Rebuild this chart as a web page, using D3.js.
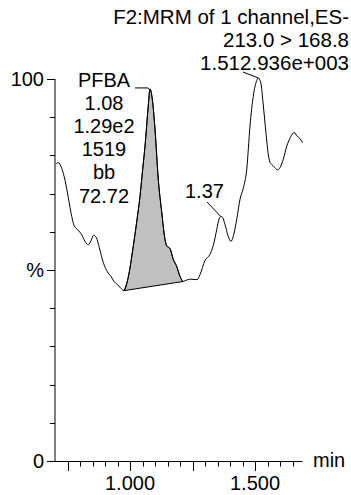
<!DOCTYPE html>
<html>
<head>
<meta charset="utf-8">
<script src="https://cdn.jsdelivr.net/npm/d3@7"></script>
<style>
html,body{margin:0;padding:0;background:#fff;}
svg{display:block;}
text{font-family:"Liberation Sans",Arial,Helvetica,sans-serif;fill:#000;}
</style>
</head>
<body>
<div id="chart"></div>
<script>
// ---- data ----
const times = [0.703,0.713,0.727,0.740,0.753,0.767,0.776,0.793,0.807,0.820,0.833,0.847,0.854,0.866,0.877,0.893,0.909,0.924,0.936,0.947,0.960,0.976,
  0.992,1.013,1.027,1.040,1.050,1.060,1.073,1.080,1.089,1.100,1.113,1.127,1.140,1.147,1.160,1.173,1.187,1.200,1.213,
  1.220,1.233,1.244,1.260,1.269,1.280,1.300,1.320,1.333,1.347,1.356,1.363,1.370,1.380,1.393,1.404,1.413,1.427,1.440,1.453,1.467,1.480,1.493,1.507,1.512,1.523,1.533,1.544,1.553,1.560,1.567,1.580,1.589,1.600,1.613,1.627,1.643,1.656,1.669,1.680,1.690];
const intensity = [77.7,78.1,76.6,73.5,69.0,64.0,61.7,60.4,59.2,57.5,56.6,58.1,59.1,58.4,55.9,52.0,49.6,48.3,47.0,46.3,45.5,44.6,
  47.8,56.2,62.7,69.3,75.9,82.4,92.9,97.4,94.8,86.9,73.8,65.1,58.0,56.3,55.6,52.8,50.9,48.3,47.0,
  47.2,47.5,47.6,47.5,47.5,48.8,52.5,54.1,56.4,60.6,63.3,64.0,63.8,61.9,58.8,57.5,58.8,63.3,68.5,71.4,76.4,87.7,95.5,99.6,100.3,99.1,93.2,85.8,80.3,78.2,77.6,76.8,76.2,76.8,79.0,82.4,84.9,86.0,85.0,84.4,83.3];
const peakStart = 0.976, peakEnd = 1.213;          // integrated PFBA peak
const peakLabel = ["PFBA","1.08","1.29e2","1519","bb","72.72"];
const titleLines = ["F2:MRM of 1 channel,ES-","213.0 > 168.8","2.936e+003"];
const mainPeakLabel = "1.51", minorPeakLabel = "1.37";
const xMajorTicks = [0.75,1.0,1.25,1.5];
const xLabelTicks = [1.0,1.5];
const xMinorTicks = d3.range(0.75,1.66,0.05).map(v=>+v.toFixed(2));
const yTicks = d3.range(0,101,10);
const yLabels = [[0,"0"],[50,"%"],[100,"100"]];

// ---- layout ----
const W=351,H=495;
const svg=d3.select("#chart").append("svg").attr("width",W).attr("height",H);
const x=d3.scaleLinear().domain([0.70,1.69]).range([55,302.5]);
const y=d3.scaleLinear().domain([0,100]).range([461,79]);
const FS=20, TFS=20.5;

// axes
svg.append("line").attr("x1",x(0.70)).attr("x2",x(1.69)).attr("y1",y(0)+0.5).attr("y2",y(0)+0.5).attr("stroke","#000");
svg.append("line").attr("x1",x(0.70)).attr("x2",x(0.70)).attr("y1",y(0)+0.5).attr("y2",y(100)).attr("stroke","#000");
svg.selectAll(".xt").data(xMinorTicks).join("line")
  .attr("x1",d=>Math.round(x(d))+0.5).attr("x2",d=>Math.round(x(d))+0.5)
  .attr("y1",y(0)).attr("y2",d=>y(0)+(xMajorTicks.some(m=>Math.abs(m-d)<1e-6)?10:5.5))
  .attr("stroke","#000");
svg.selectAll(".xl").data(xLabelTicks).join("text")
  .attr("x",d=>x(d)).attr("y",490).attr("text-anchor","middle").attr("font-size",FS)
  .text(d=>d3.format(".3f")(d));
svg.append("text").attr("x",313).attr("y",467).attr("font-size",FS).text("min");
svg.selectAll(".yt").data(yTicks).join("line")
  .attr("x1",x(0.70)).attr("x2",d=>x(0.70)-(d%50===0?8:5))
  .attr("y1",d=>Math.round(y(d))+0.5).attr("y2",d=>Math.round(y(d))+0.5)
  .attr("stroke","#000");
svg.selectAll(".yl").data(yLabels).join("text")
  .attr("x",44).attr("y",d=>y(d[0])+7).attr("text-anchor","end").attr("font-size",FS)
  .text(d=>d[1]);

// data
const pts=times.map((t,i)=>[t,intensity[i]]);
const peakPts=pts.filter(p=>p[0]>=peakStart-1e-9&&p[0]<=peakEnd+1e-9);
const lineGen=d3.line().x(d=>x(d[0])).y(d=>y(d[1])).curve(d3.curveMonotoneX);
svg.append("path")
  .attr("d",lineGen(peakPts)+"Z")
  .attr("fill","#c0c0c0").attr("stroke","#000").attr("stroke-width",1);
svg.append("path")
  .attr("d",lineGen(pts))
  .attr("fill","none").attr("stroke","#000").attr("stroke-width",1);

// peak annotations
const apex=peakPts.reduce((a,b)=>b[1]>a[1]?b:a);
svg.selectAll(".pl").data(peakLabel).join("text")
  .attr("x",104).attr("y",(d,i)=>86.5+i*23.2).attr("text-anchor","middle").attr("font-size",FS)
  .text(d=>d);
svg.append("polyline").attr("points",`135,${y(apex[1])-1} ${x(apex[0])-2},${y(apex[1])-1} ${x(apex[0])},${y(apex[1])+1}`)
  .attr("fill","none").attr("stroke","#000");

const m37=pts.filter(p=>p[0]>1.3&&p[0]<1.4).reduce((a,b)=>b[1]>a[1]?b:a);
svg.append("text").attr("x",185).attr("y",198).attr("font-size",FS).text(minorPeakLabel);
svg.append("line").attr("x1",207).attr("y1",202).attr("x2",x(m37[0])).attr("y2",y(m37[1])).attr("stroke","#000");

const m51=pts.reduce((a,b)=>b[1]>a[1]?b:a);
titleLines.forEach((t,i)=>svg.append("text").attr("x",349).attr("y",24+i*23).attr("text-anchor","end").attr("font-size",TFS).text(t));
svg.append("text").attr("x",240).attr("y",70).attr("text-anchor","end").attr("font-size",TFS).text(mainPeakLabel);
svg.append("line").attr("x1",243).attr("y1",72).attr("x2",x(m51[0])).attr("y2",y(m51[1])).attr("stroke","#000");
</script>
</body>
</html>
